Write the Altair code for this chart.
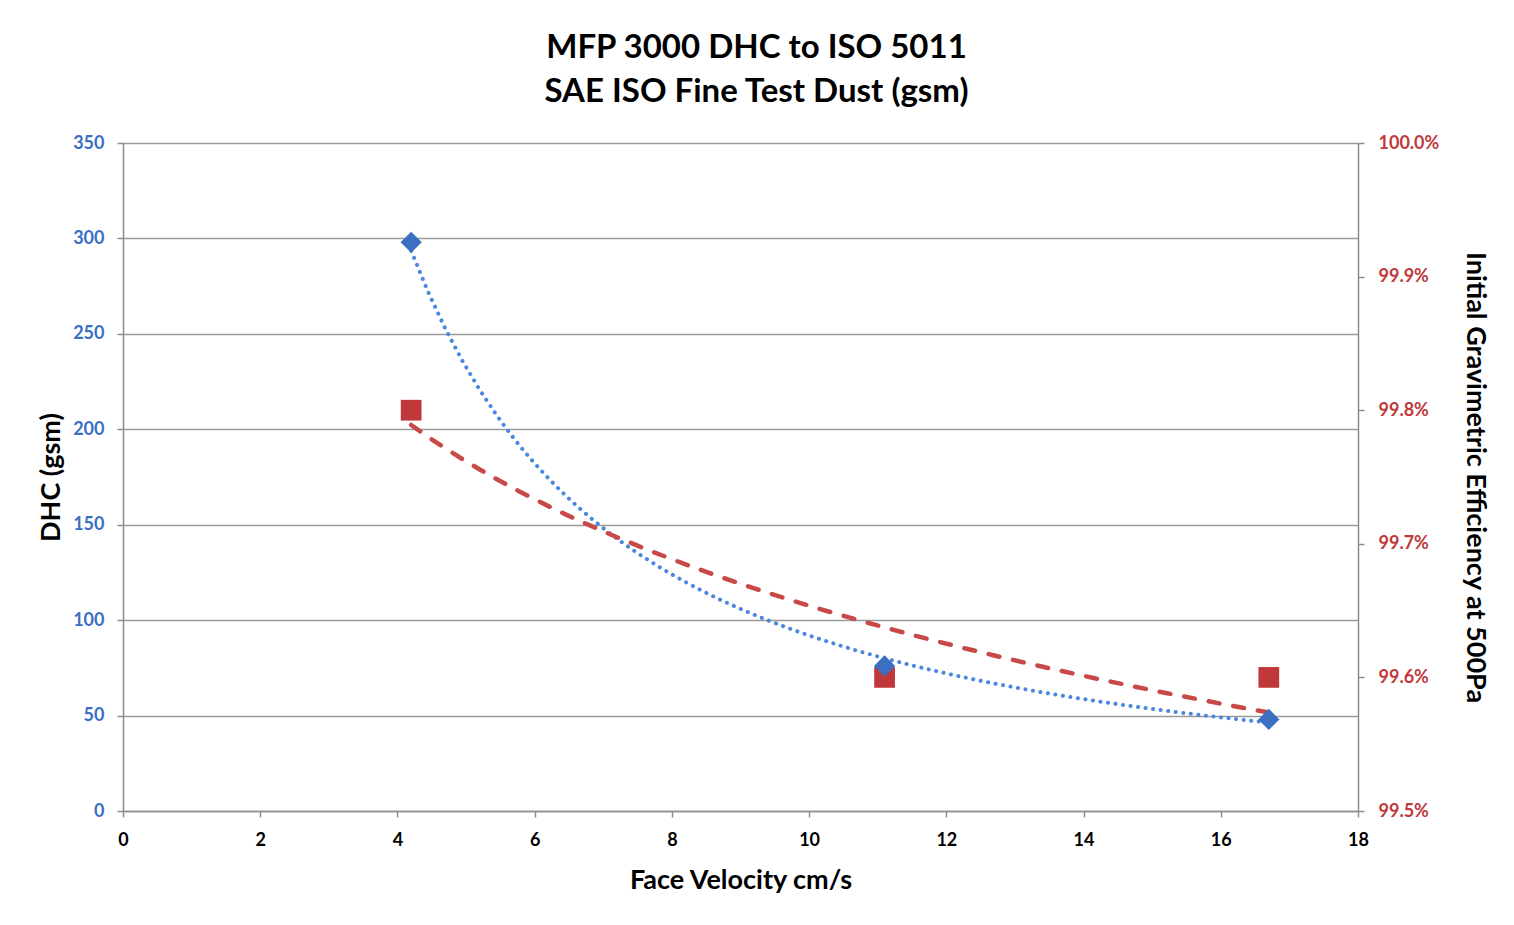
import altair as alt
import pandas as pd

velocity = [4.2, 11.1, 16.7]
dhc = [298, 76, 48]
efficiency = [0.998, 0.996, 0.996]

df = pd.DataFrame({"v": velocity, "dhc": dhc, "eff": efficiency})

BLUE = "#3b6fc2"
BLUE_LINE = "#4a88e0"
RED = "#c0393a"
RED_LINE = "#c84a48"
FONT = "Lato"

x_scale = alt.Scale(domain=[0, 18], nice=False)
blue_scale = alt.Scale(domain=[0, 350], nice=False)
red_scale = alt.Scale(domain=[0.995, 1.0], nice=False)

x_enc = alt.X("v:Q", title="Face Velocity cm/s", scale=x_scale,
              axis=alt.Axis(values=list(range(0, 19, 2)), format="d", grid=False,
                            labelFlush=False, labelColor="black", titleColor="black"))

base = alt.Chart(df)

blue_trend = base.transform_regression("v", "dhc", method="pow").mark_line(
    color=BLUE_LINE, strokeWidth=4, strokeDash=[0.1, 7.5], strokeCap="round"
).encode(x=x_enc, y=alt.Y("dhc:Q", scale=blue_scale, axis=None))

blue_pts = base.mark_point(shape="diamond", filled=True, size=450, color=BLUE, opacity=1).encode(
    x=x_enc,
    y=alt.Y("dhc:Q", title="DHC (gsm)", scale=blue_scale,
            axis=alt.Axis(values=list(range(0, 351, 50)), format="d", grid=True, orient="left",
                          labelFlush=False, labelColor=BLUE, titleColor="black")),
)

red_trend = base.transform_regression("v", "eff", method="log").mark_line(
    color=RED_LINE, strokeWidth=4.5, strokeDash=[11, 14], strokeCap="round"
).encode(x=x_enc, y=alt.Y("eff:Q", scale=red_scale, axis=None))

red_pts = base.mark_point(shape="square", filled=True, size=430, color=RED, opacity=1).encode(
    x=x_enc,
    y=alt.Y("eff:Q", title="Initial Gravimetric Efficiency at 500Pa", scale=red_scale,
            axis=alt.Axis(values=[0.995, 0.996, 0.997, 0.998, 0.999, 1.0], format=".1%",
                          labelFlush=False, grid=False, orient="right", labelColor=RED,
                          titleColor="black")),
)

chart = alt.layer(blue_trend, red_trend, red_pts, blue_pts).resolve_scale(y="independent").properties(
    width=1235,
    height=668,
    autosize=alt.AutoSizeParams(type="none"),
    padding={"left": 115, "top": 135, "right": 140, "bottom": 100},
    title=alt.Title(["MFP 3000 DHC to ISO 5011", "SAE ISO Fine Test Dust (gsm)"],
                    fontSize=33, font=FONT, fontWeight="bold", color="black",
                    anchor="middle", offset=25, lineHeight=44, dx=16),
).configure_view(strokeWidth=0).configure_axis(
    domainColor="#8c8c8c", domainWidth=1.5, tickColor="#8c8c8c", tickWidth=1.5, tickSize=6,
    gridColor="#9a9a9a", gridWidth=1.5,
    labelFont=FONT, labelFontSize=18, labelFontWeight="bold", labelPadding=13,
    titleFont=FONT, titleFontSize=27, titleFontWeight="bold",
).configure_axisX(titlePadding=18, labelPadding=14).configure_axisLeft(titlePadding=7).configure_axisRight(
    titlePadding=22, labelPadding=14
)

chart.save("out.html", embed_options={"renderer": "svg", "actions": False})
